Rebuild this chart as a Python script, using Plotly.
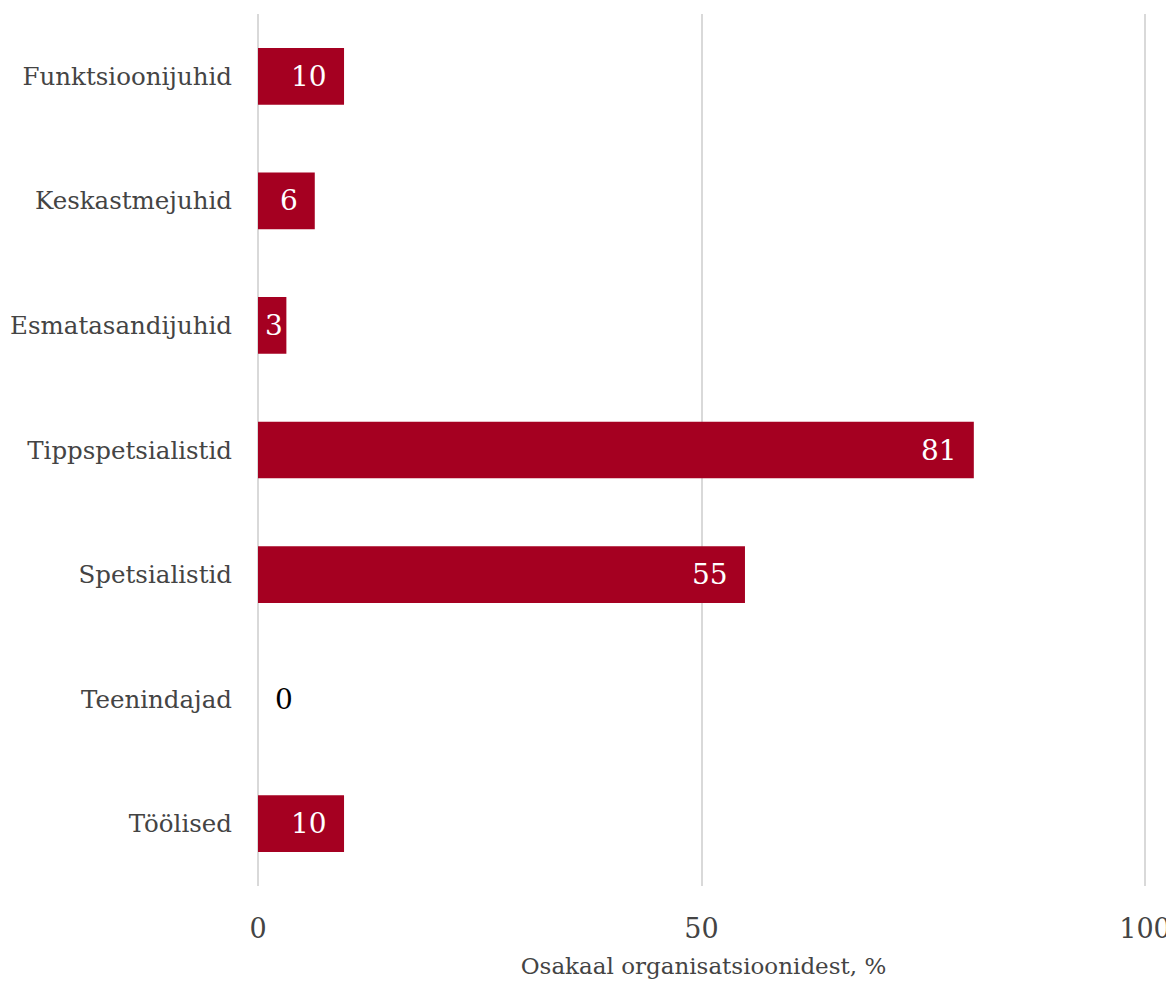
import plotly.graph_objects as go

categories = ["Funktsioonijuhid", "Keskastmejuhid", "Esmatasandijuhid", "Tippspetsialistid",
              "Spetsialistid", "Teenindajad", "Töölised"]
values = [9.7, 6.4, 3.2, 80.7, 54.9, 0, 9.7]
labels = ["10", "6", "3", "81", "55", "0", "10"]
x_ticks = [0, 50, 100]
x_title = "Osakaal organisatsioonidest, %"

FONT = "DejaVu Serif, Liberation Serif, serif"
BAR = "#A50021"
LABEL_SIZE = 28

fig = go.Figure(go.Bar(
    x=values, y=categories, orientation="h",
    marker=dict(color=BAR, line=dict(width=0)),
    width=0.455,
    hoverinfo="x+y",
))

# value labels, placed through the axes
for cat, v, lab in zip(categories, values, labels):
    if v == 0:
        fig.add_annotation(x=v, y=cat, text=lab, showarrow=False, xanchor="left", xshift=15,
                           font=dict(color="black", size=LABEL_SIZE, family=FONT))
    elif v < 5:
        fig.add_annotation(x=v / 2, y=cat, text=lab, showarrow=False, xanchor="center", xshift=2,
                           font=dict(color="white", size=LABEL_SIZE, family=FONT))
    else:
        fig.add_annotation(x=v, y=cat, text=lab, showarrow=False, xanchor="right", xshift=-15,
                           font=dict(color="white", size=LABEL_SIZE, family=FONT))

fig.update_layout(
    width=1174, height=982,
    margin=dict(l=250, r=33, t=6, b=104, autoexpand=False),
    plot_bgcolor="white", paper_bgcolor="white",
    font=dict(family=FONT, color="#444444"),
    showlegend=False,
)
fig.update_xaxes(
    range=[0, 100.45], tickvals=x_ticks, ticktext=[str(t) for t in x_ticks],
    showgrid=True, gridcolor="#d9d9d9", gridwidth=1.5,
    zeroline=True, zerolinecolor="#d9d9d9", zerolinewidth=1.5,
    tickfont=dict(size=27, color="#444444", family=FONT),
    ticklabelstandoff=24, automargin=False,
    title=dict(text=x_title, font=dict(size=23, color="#444444", family=FONT), standoff=14),
    showline=False, ticks="",
)
fig.update_yaxes(
    categoryorder="array", categoryarray=categories[::-1],
    tickfont=dict(size=24.5, color="#444444", family=FONT),
    showgrid=False, showline=False, ticks="", ticklabelstandoff=25, automargin=False,
)

fig.write_html("out.html")
